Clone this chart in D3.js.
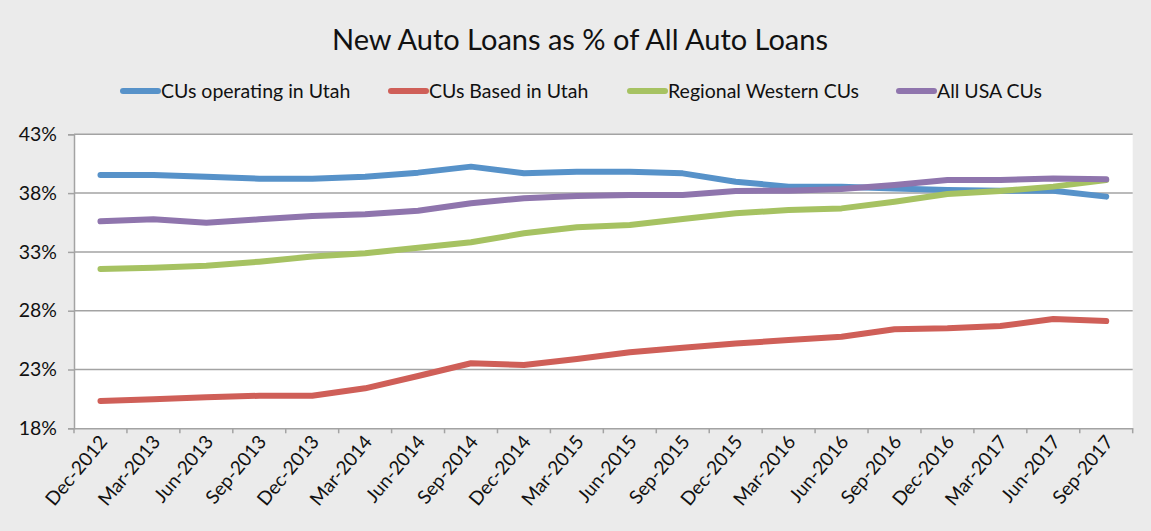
<!DOCTYPE html>
<html>
<head>
<meta charset="utf-8">
<script src="https://cdn.jsdelivr.net/npm/d3@7"></script>
<style>
  body { margin: 0; background: #ebebeb; }
  svg { display: block; }
  text { font-family: Lato, "Open Sans", sans-serif; fill: #111; }
</style>
</head>
<body>
<svg id="visualization" width="1151" height="531"></svg>
<script>
const quarters = ["Dec-2012", "Mar-2013", "Jun-2013", "Sep-2013", "Dec-2013", "Mar-2014", "Jun-2014",
    "Sep-2014", "Dec-2014", "Mar-2015", "Jun-2015", "Sep-2015", "Dec-2015", "Mar-2016", "Jun-2016",
    "Sep-2016", "Dec-2016", "Mar-2017", "Jun-2017", "Sep-2017"];

const seriesNames = ["CUs operating in Utah", "CUs Based in Utah", "Regional Western CUs", "All USA CUs"];
const seriesColors = ["#5792c9", "#cf5f58", "#a6c262", "#8f75ad"];

const operatingUtah = [39.54, 39.54, 39.4, 39.23, 39.23, 39.4, 39.74, 40.25, 39.68, 39.82,
    39.82, 39.68, 38.97, 38.55, 38.55, 38.4, 38.26, 38.2, 38.2, 37.7];
const basedUtah = [20.32, 20.46, 20.64, 20.77, 20.77, 21.4, 22.45, 23.53, 23.38, 23.9,
    24.46, 24.85, 25.22, 25.5, 25.79, 26.42, 26.5, 26.7, 27.29, 27.12];
const regionalWestern = [31.55, 31.66, 31.83, 32.17, 32.6, 32.88, 33.36, 33.82, 34.58, 35.09,
    35.29, 35.8, 36.28, 36.56, 36.7, 37.27, 37.92, 38.18, 38.55, 39.11];
const allUsa = [35.6, 35.77, 35.48, 35.77, 36.05, 36.2, 36.5, 37.13, 37.56, 37.75,
    37.84, 37.84, 38.18, 38.2, 38.35, 38.69, 39.11, 39.11, 39.25, 39.17];

const yTicks = [18, 23, 28, 33, 38, 43];

const seriesValues = [operatingUtah, basedUtah, regionalWestern, allUsa];

const margin = { top: 134.3, right: 18.3, bottom: 102.7, left: 74 };
const width = 1151 - margin.left - margin.right;
const height = 531 - margin.top - margin.bottom;

const svg = d3.select("#visualization");

svg.append("text")
    .attr("x", 580)
    .attr("y", 50)
    .attr("text-anchor", "middle")
    .attr("font-size", 29)
    .text("New Auto Loans as % of All Auto Loans");

// legend
const legendX = [121, 389, 628, 897];
const legend = svg.append("g");
seriesNames.forEach((name, i) => {
    const g = legend.append("g").attr("transform", `translate(${legendX[i]}, 91)`);
    g.append("line")
        .attr("x1", 2).attr("x2", 37)
        .attr("stroke", seriesColors[i])
        .attr("stroke-width", 6)
        .attr("stroke-linecap", "round");
    g.append("text")
        .attr("x", 40)
        .attr("dy", "0.35em")
        .attr("font-size", 19.5)
        .text(name);
});

const xScale = d3.scaleBand()
    .domain(quarters)
    .range([0, width]);
const yScale = d3.scaleLinear()
    .domain([18, 43])
    .range([height, 0]);

const chart = svg.append("g")
    .attr("transform", `translate(${margin.left}, ${margin.top})`);

chart.append("rect")
    .attr("width", width)
    .attr("height", height)
    .attr("fill", "#fff");

// gridlines
chart.selectAll(".grid")
    .data(yTicks.slice(1))
    .join("line")
    .attr("x1", 0)
    .attr("x2", width)
    .attr("y1", d => yScale(d))
    .attr("y2", d => yScale(d))
    .attr("stroke", "#a3a3a3")
    .attr("stroke-width", 1.5);

const yAxis = chart.append("g")
    .call(d3.axisLeft(yScale).tickValues(yTicks).tickFormat(d => d + "%").tickSize(6).tickPadding(11));
yAxis.selectAll("text").attr("font-size", 19.5).attr("fill", "#111");

const xAxis = chart.append("g")
    .attr("transform", `translate(0, ${height})`)
    .call(d3.axisBottom(xScale).tickSize(0).tickFormat(""));
xAxis.selectAll(".tick").remove();

chart.selectAll(".xtick")
    .data(d3.range(quarters.length + 1))
    .join("line")
    .attr("x1", d => d * xScale.step())
    .attr("x2", d => d * xScale.step())
    .attr("y1", height)
    .attr("y2", height + 5)
    .attr("stroke", "#a3a3a3")
    .attr("stroke-width", 1.5);

svg.selectAll(".domain").attr("stroke", "#a3a3a3").attr("stroke-width", 1.5);
svg.selectAll(".tick line").attr("stroke", "#a3a3a3").attr("stroke-width", 1.5);

chart.selectAll(".xlabel")
    .data(quarters)
    .join("text")
    .attr("text-anchor", "end")
    .attr("font-size", 19)
    .attr("transform", d => `translate(${xScale(d) + xScale.bandwidth() / 2 + 8}, ${height + 14}) rotate(-50)`)
    .text(d => d);

const line = d3.line()
    .x((d, i) => xScale(quarters[i]) + xScale.bandwidth() / 2)
    .y(d => yScale(d));

chart.selectAll(".series")
    .data(seriesValues)
    .join("path")
    .attr("d", d => line(d))
    .attr("fill", "none")
    .attr("stroke", (d, i) => seriesColors[i])
    .attr("stroke-width", 6)
    .attr("stroke-linecap", "round")
    .attr("stroke-linejoin", "round");
</script>
</body>
</html>
